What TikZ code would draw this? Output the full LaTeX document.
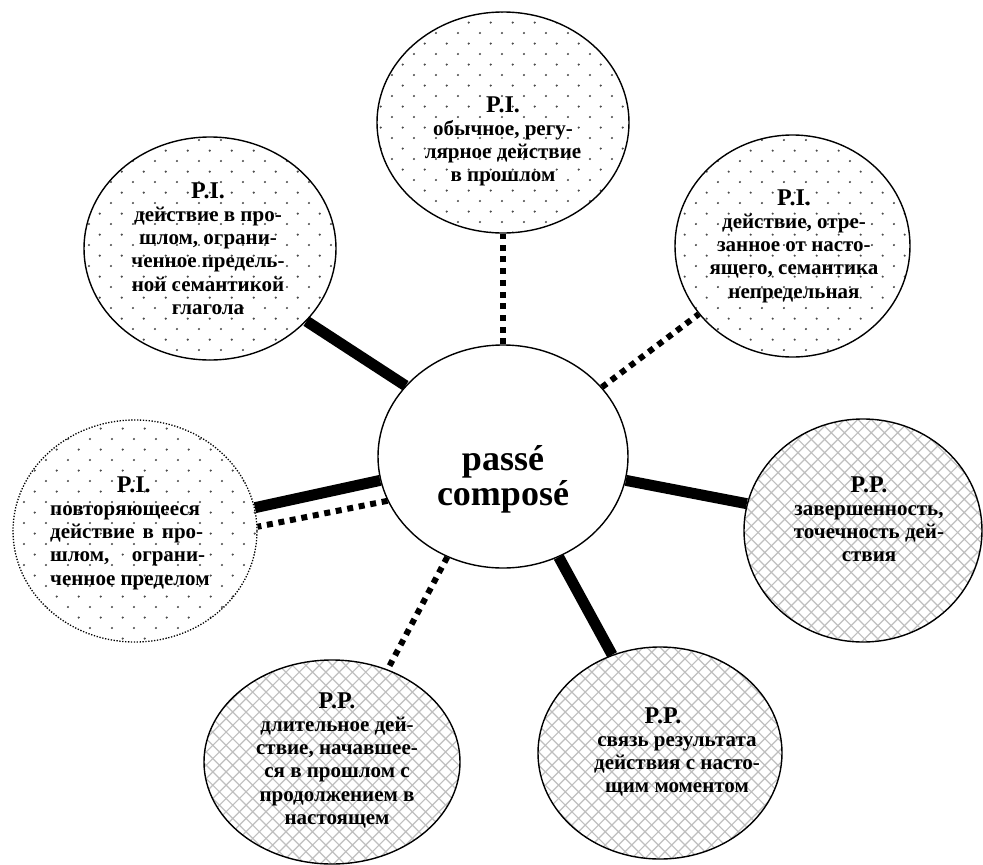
\documentclass[tikz,border=0pt]{standalone}
\usepackage{fontspec}
\setmainfont{Liberation Serif}
\usetikzlibrary{shapes.geometric,patterns}
\pgfdeclarepatternformonly{sdots}{\pgfqpoint{0pt}{0pt}}{\pgfqpoint{21.7pt}{21.4pt}}{\pgfqpoint{21.7pt}{21.4pt}}{%
  \pgfpathcircle{\pgfqpoint{2pt}{2pt}}{1.2pt}%
  \pgfpathcircle{\pgfqpoint{12.85pt}{12.7pt}}{1.2pt}%
  \pgfusepath{fill}}
\pgfdeclarepatternformonly{xhatch}{\pgfqpoint{-1pt}{-1pt}}{\pgfqpoint{14.3pt}{14.3pt}}{\pgfqpoint{13.3pt}{13.3pt}}{%
  \pgfsetlinewidth{1.2pt}%
  \pgfpathmoveto{\pgfqpoint{0pt}{0pt}}\pgfpathlineto{\pgfqpoint{13.3pt}{13.3pt}}%
  \pgfpathmoveto{\pgfqpoint{0pt}{13.3pt}}\pgfpathlineto{\pgfqpoint{13.3pt}{0pt}}%
  \pgfusepath{stroke}}
\newcommand\hd{\fontsize{24}{23.3}\selectfont}
\tikzset{
  bub/.style={ellipse, draw, line width=1.4pt, inner sep=0pt},
  dotsfill/.style={pattern=sdots, pattern color=black!70},
  hatchfill/.style={pattern=xhatch, pattern color=black!25},
  thickline/.style={line width=11pt},
  sqdots/.style={line width=6pt, dash pattern=on 6pt off 5.7pt},
  txt/.style={anchor=base, inner sep=0pt, font=\bfseries\fontsize{21}{23.3}\selectfont},
}
\begin{document}
\begin{tikzpicture}[x=1pt,y=-1pt]
\useasboundingbox (0,0) rectangle (983,865);
\fill[white] (0,0) rectangle (983,865);
% bubbles
\node[bub, dotsfill, minimum width=252pt, minimum height=221pt] (top) at (503,122.5) {};
\node[bub, dotsfill, minimum width=252pt, minimum height=223pt] (tl) at (210,248.5) {};
\node[bub, dotsfill, minimum width=235pt, minimum height=222pt] (tr) at (792.5,246) {};
\node[bub, dotsfill, minimum width=244pt, minimum height=222pt, line width=1.3pt, dash pattern=on 1.3pt off 1.6pt] (lf) at (135,531) {};
\node[bub, hatchfill, minimum width=238pt, minimum height=223pt] (rt) at (863,530.5) {};
\node[bub, hatchfill, minimum width=256pt, minimum height=204pt] (bl) at (332,762) {};
\node[bub, hatchfill, minimum width=244pt, minimum height=212pt] (br) at (660,753) {};
\node[bub, fill=white, minimum width=250pt, minimum height=223pt] (c) at (503,456.5) {};
% connectors
\draw[thickline] (c.144.7) -- (tl.-37);
\draw[sqdots] (c.north) -- (top.south);
\draw[sqdots] (c.35.8) -- (tr.216.6);
\draw[thickline] (c.-11.4) -- (rt.167.4);
\draw[thickline] (c.-61.7) -- (br.116.8);
\draw[sqdots] (c.241.5) -- (bl.59);
\draw[thickline] (c.191.7) -- (lf.11.9);
\draw[sqdots] (c.201) -- (lf.2.8);
% texts
\node[txt] (tc) at (503,470) {\parbox[t]{220pt}{\centering\fontsize{36}{35}\selectfont passé\\composé}};
\node[txt] (ttop) at (503,112) {\parbox[t]{220pt}{\centering{\hd P.I.}\\обычное, регу-\\лярное действие\\в прошлом}};
\node[txt] (ttl) at (208,198) {\parbox[t]{220pt}{\centering{\hd P.I.}\\действие в про-\\шлом, ограни-\\ченное предель-\\ной семантикой\\глагола}};
\node[txt] (ttr) at (794,205) {\parbox[t]{220pt}{\centering{\hd P.I.}\\действие, отре-\\занное от насто-\\ящего, семантика\\непредельная}};
\node[txt, anchor=base west] (tlf) at (50,492) {\parbox[t]{167pt}{\raggedright\makebox[167pt]{\hd P.I.}\\повторяющееся\\\makebox[153pt][s]{действие в про-}\\\makebox[155pt][s]{шлом, ограни-}\\ченное пределом}};
\node[txt] (trt) at (869,492) {\parbox[t]{220pt}{\centering{\hd P.P.}\\завершенность,\\точечность дей-\\ствия}};
\node[txt] (tbl) at (337,708) {\parbox[t]{220pt}{\centering{\hd P.P.}\\длительное дей-\\ствие, начавшее-\\ся в прошлом с\\продолжением в\\настоящем}};
\node[txt] (tbr) at (677,723) {\parbox[t]{220pt}{\centering{\hd\hspace*{-28pt}P.P.}\\связь результата\\действия с насто-\\щим моментом}};
\end{tikzpicture}
\end{document}
